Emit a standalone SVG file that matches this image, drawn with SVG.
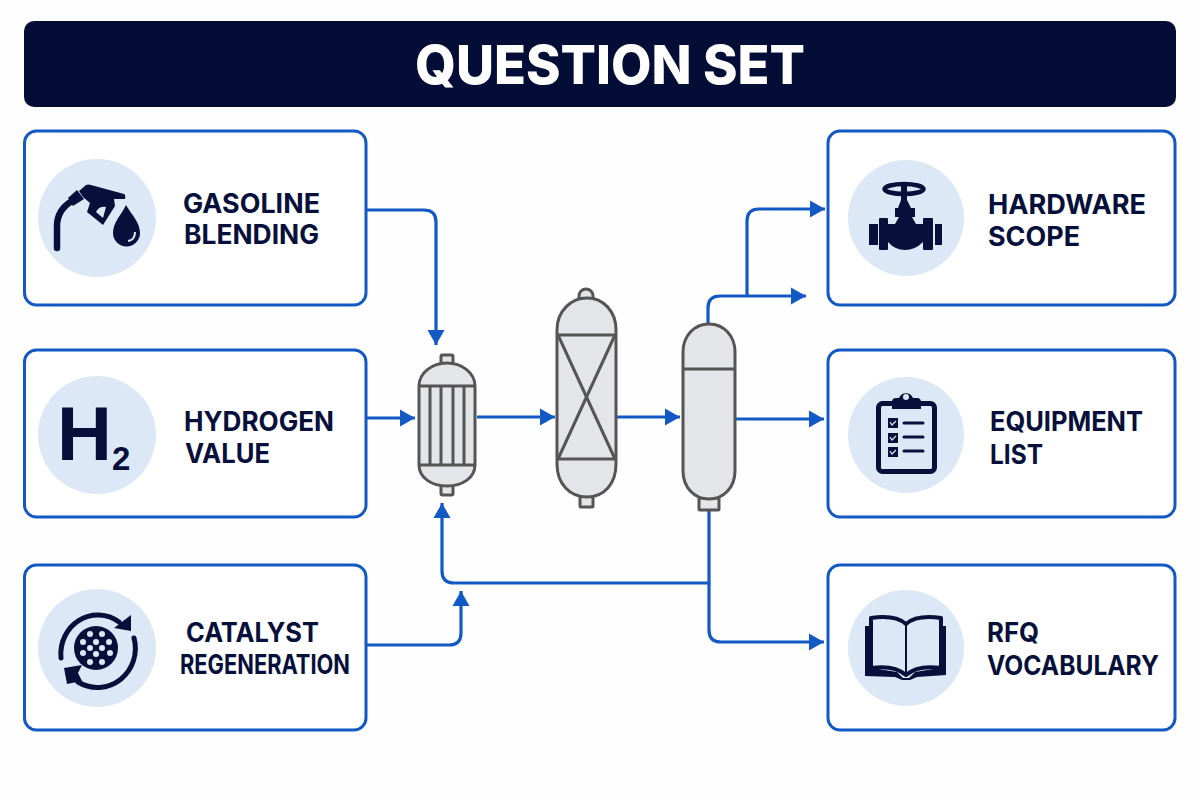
<svg xmlns="http://www.w3.org/2000/svg" width="1200" height="800" viewBox="0 0 1200 800">
<style>
.box{fill:#fff;stroke:#1259c3;stroke-width:3}
.disc{fill:#dce8f6}
.lbl{font-family:Inter,"Liberation Sans",Arial,sans-serif;font-weight:700;font-size:27px;fill:#06103a}
.ink{fill:#06103a}
.inkl{fill:none;stroke:#06103a;stroke-linecap:round;stroke-linejoin:round}
.wire{fill:none;stroke:#1259c3;stroke-width:3.200}
.vessel path,.vessel rect{fill:#e4e5e8;stroke:#555;stroke-width:3}
.vessel line{stroke:#555;stroke-width:3}
</style>
<defs>
<marker id="arrow" markerUnits="userSpaceOnUse" markerWidth="18" markerHeight="18" refX="15" refY="9" orient="auto"><path d="M0 0.500L15 9L0 17.500Z" fill="#1259c3"/></marker>
</defs>
<rect width="1200" height="800" fill="#fefefe"/>
<g id="title">
<rect x="24" y="21" width="1152" height="86" rx="10" fill="#030d35"/>
<text x="415" y="84" textLength="390" lengthAdjust="spacingAndGlyphs" font-family="Inter,'Liberation Sans',Arial,sans-serif" font-weight="800" font-size="53.500" fill="#fff">QUESTION SET</text>
</g>
<g id="connectors">
<path class="wire" marker-end="url(#arrow)" d="M366 210H424Q436 210 436 222V345"/>
<path class="wire" marker-end="url(#arrow)" d="M366 418H415"/>
<path class="wire" marker-end="url(#arrow)" d="M477 417H555"/>
<path class="wire" marker-end="url(#arrow)" d="M617 417H680"/>
<path class="wire" marker-end="url(#arrow)" d="M735 419H824"/>
<path class="wire" marker-end="url(#arrow)" d="M708 324V308Q708 296 720 296H806"/>
<path class="wire" marker-end="url(#arrow)" d="M747 296V221Q747 209 759 209H825"/>
<path class="wire" marker-end="url(#arrow)" d="M709 510V583H454Q442 583 442 571V503"/>
<path class="wire" marker-end="url(#arrow)" d="M709 583V630Q709 642 721 642H824"/>
<path class="wire" marker-end="url(#arrow)" d="M366 645H449Q461 645 461 633V591"/>
</g>
<g id="exchanger" class="vessel">
<rect x="441" y="355" width="12" height="9" rx="1.500"/>
<rect x="441" y="485" width="12" height="10" rx="1.500"/>
<path d="M419 386V465C419 478 432 486 447 486S475 478 475 465V386C475 373 462 363 447 363S419 373 419 386Z"/>
<line x1="419" y1="386" x2="475" y2="386"/><line x1="419" y1="465" x2="475" y2="465"/>
<line x1="430" y1="386" x2="430" y2="465"/><line x1="441" y1="386" x2="441" y2="465"/><line x1="453" y1="386" x2="453" y2="465"/><line x1="464" y1="386" x2="464" y2="465"/>
</g>
<g id="reactor" class="vessel">
<path d="M579 299V296A7 7 0 0 1 593 296V299Z"/>
<rect x="580" y="496" width="13" height="11" rx="1"/>
<path d="M557 330V464C557 484 570 497 587 497S616 484 616 464V330C616 311 603 298 587 298S557 311 557 330Z"/>
<line x1="557" y1="335" x2="616" y2="335"/><line x1="557" y1="459" x2="616" y2="459"/>
<line x1="558" y1="335" x2="615" y2="459"/><line x1="615" y1="335" x2="558" y2="459"/>
</g>
<g id="column" class="vessel">
<rect x="699" y="498" width="20" height="12" rx="1"/>
<path d="M683 352V471C683 487 694 499 709 499S735 487 735 471V352C735 336 724 324 709 324S683 336 683 352Z"/>
<line x1="683" y1="369" x2="735" y2="369"/>
</g>
<g id="gasoline">
<rect class="box" x="24.500" y="131" width="341.500" height="174" rx="12"/>
<circle class="disc" cx="97" cy="218" r="59"/>
<path class="inkl" stroke-width="6.500" stroke-linecap="butt" d="M57 248V226Q57 210 72 201"/>
<path class="ink" d="M68 198L77 190L84 199L73 206Z"/>
<path class="ink" d="M79 191L86 185Q88 184 91 185L124 194Q126 195 125 199L114 199L115 206L103 225L87 212L90 203L83 197Z"/>
<path fill="#dce8f6" d="M96 212Q99 206 106 207L103 218Z"/>
<path class="ink" d="M126 205C131 214 140 222 140 233A13.500 13.500 0 0 1 113 233C113 222 122 214 126 205Z"/>
<path d="M135 232Q135 240 128 241" fill="none" stroke="#dce8f6" stroke-width="2"/>
<text class="lbl" x="183" y="213" textLength="137" lengthAdjust="spacingAndGlyphs">GASOLINE</text>
<text class="lbl" x="184" y="244" textLength="135" lengthAdjust="spacingAndGlyphs">BLENDING</text>
</g>
<g id="hydrogen">
<rect class="box" x="24.500" y="350" width="341.500" height="167" rx="12"/>
<circle class="disc" cx="97" cy="435" r="59"/>
<text x="57" y="460" font-family="'Liberation Sans',Arial,sans-serif" font-weight="700" font-size="76" class="ink">H</text>
<text x="112" y="470" font-family="'Liberation Sans',Arial,sans-serif" font-weight="700" font-size="33" class="ink">2</text>
<text class="lbl" x="184" y="431" textLength="150" lengthAdjust="spacingAndGlyphs">HYDROGEN</text>
<text class="lbl" x="185" y="463" textLength="85" lengthAdjust="spacingAndGlyphs">VALUE</text>
</g>
<g id="catalyst">
<rect class="box" x="24.500" y="565" width="341.500" height="165" rx="12"/>
<circle class="disc" cx="97" cy="648" r="59"/>
<circle class="ink" cx="96" cy="648" r="22"/>
<g fill="#dce8f6"><circle cx="90" cy="634" r="3"/><circle cx="102" cy="634" r="3"/><circle cx="83" cy="642" r="3"/><circle cx="96" cy="642" r="3"/><circle cx="109" cy="642" r="3"/><circle cx="90" cy="648" r="3"/><circle cx="102" cy="648" r="3"/><circle cx="83" cy="653" r="3"/><circle cx="96" cy="654" r="3"/><circle cx="110" cy="653" r="3"/><circle cx="90" cy="662" r="3"/><circle cx="102" cy="662" r="3"/></g>
<path class="inkl" stroke-width="5" d="M61 658A37 39 0 0 1 119 622"/>
<path class="ink" d="M131 615V631L114 628Z"/>
<path class="inkl" stroke-width="5" d="M134 638A38 39 0 0 1 78 682"/>
<path class="ink" d="M64 668L82 665L78 673L82 681L67 684Z"/>
<text class="lbl" x="186" y="642" textLength="133" lengthAdjust="spacingAndGlyphs">CATALYST</text>
<text class="lbl" x="180" y="674" textLength="170" lengthAdjust="spacingAndGlyphs">REGENERATION</text>
</g>
<g id="hardware">
<rect class="box" x="828" y="131" width="347" height="174" rx="12"/>
<circle class="disc" cx="906" cy="218" r="58"/>
<ellipse cx="904" cy="189" rx="19.500" ry="5" fill="none" stroke="#06103a" stroke-width="4.500"/>
<path class="ink" d="M901 186H907V200L911 208H915V217H912L916 224H923V242Q915 250 905 250Q895 250 888 242V224H895L899 217H895V208H898L901 200Z"/>
<path class="ink" d="M869 224H878V245H869ZM879 219Q879 218 880 218H887Q888 218 888 219V249Q888 250 887 250H880Q879 250 879 249ZM923 219Q923 218 924 218H932Q933 218 933 219V249Q933 250 932 250H924Q923 250 923 249ZM935 224H942V245H935Z"/>
<text class="lbl" x="988" y="214" textLength="158" lengthAdjust="spacingAndGlyphs">HARDWARE</text>
<text class="lbl" x="988" y="246" textLength="92" lengthAdjust="spacingAndGlyphs">SCOPE</text>
</g>
<g id="equipment">
<rect class="box" x="828" y="350" width="347" height="167" rx="12"/>
<circle class="disc" cx="906" cy="435" r="58"/>
<rect x="878.500" y="403.500" width="56" height="68" rx="4" fill="none" stroke="#06103a" stroke-width="5"/>
<path class="ink" d="M892 402Q892 398 896 398H899A7.500 7.500 0 0 1 913 398H917Q921 398 921 402V409H892Z"/>
<circle cx="906" cy="397" r="3" fill="#dce8f6"/>
<path class="ink" d="M888 418H898V428H888ZM888 433H898V443H888ZM888 447H898V457H888Z"/>
<path d="M890 422L892 425L896 421M890 437L892 440L896 436M890 451L892 454L896 450" fill="none" stroke="#dce8f6" stroke-width="1.200"/>
<path class="inkl" stroke-width="3" d="M904 423H923M904 437H923M904 451H923"/>
<text class="lbl" x="990" y="431" textLength="153" lengthAdjust="spacingAndGlyphs">EQUIPMENT</text>
<text class="lbl" x="990" y="464" textLength="53" lengthAdjust="spacingAndGlyphs">LIST</text>
</g>
<g id="rfq">
<rect class="box" x="828" y="565" width="347" height="165" rx="12"/>
<circle class="disc" cx="906" cy="648" r="58"/>
<path class="ink" d="M865 626H872V668L897 672L903 678H909L915 672L940 668V626H946V675L917 677L910 680H902L895 677L865 676Z"/>
<path fill="#dce8f6" stroke="#06103a" stroke-width="4" stroke-linejoin="round" d="M906 624C898 617 885 616 871 618V668C885 666 898 668 906 675C914 668 927 666 941 668V618C927 616 914 617 906 624Z"/>
<path class="inkl" stroke-width="2" d="M906 624V675"/>
<text class="lbl" x="987" y="642" textLength="52" lengthAdjust="spacingAndGlyphs">RFQ</text>
<text class="lbl" x="987" y="675" textLength="172" lengthAdjust="spacingAndGlyphs">VOCABULARY</text>
</g>
</svg>
